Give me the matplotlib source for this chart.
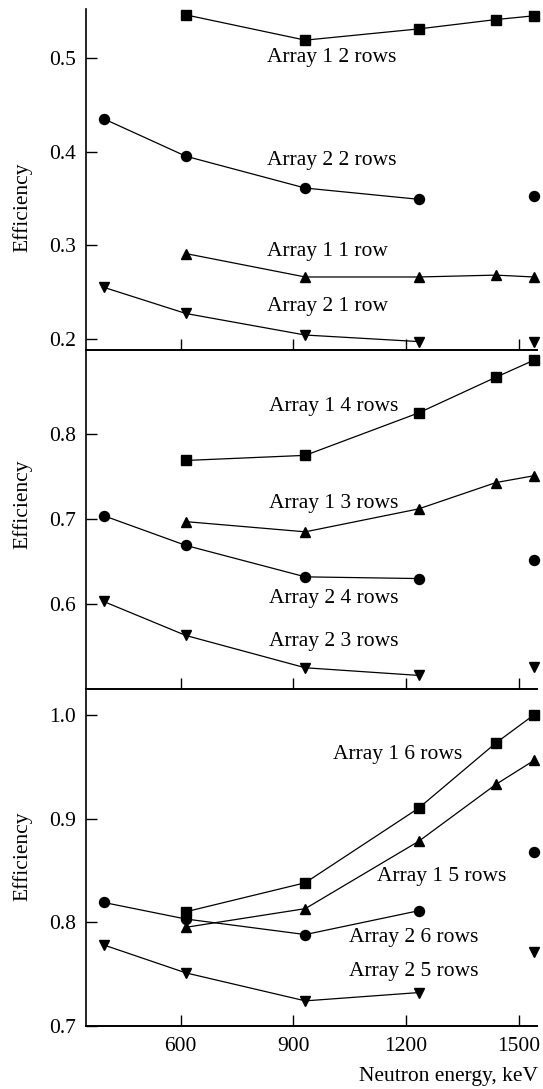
import matplotlib
matplotlib.use("Agg")
import matplotlib.pyplot as plt

plt.rcParams['font.family'] = ['Liberation Serif', 'DejaVu Serif']

# ---- data ----
energy_a1 = [614, 932, 1234, 1440, 1541]
energy_a2 = [395, 614, 932, 1234, 1541]

# top panel
a1_2rows = [0.546, 0.519, 0.531, 0.541, 0.545]
a2_2rows = [0.435, 0.395, 0.361, 0.349, 0.352]
a1_1row = [0.291, 0.266, 0.266, 0.268, 0.266]
a2_1row = [0.255, 0.227, 0.204, 0.197, 0.197]

# middle panel
a1_4rows = [0.769, 0.775, 0.825, 0.867, 0.887]
a1_3rows = [0.697, 0.685, 0.712, 0.743, 0.751]
a2_4rows = [0.704, 0.669, 0.632, 0.630, 0.652]
a2_3rows = [0.603, 0.563, 0.525, 0.516, 0.526]

# bottom panel
a1_6rows = [0.810, 0.838, 0.910, 0.973, 1.000]
a1_5rows = [0.795, 0.813, 0.878, 0.933, 0.956]
a2_6rows = [0.819, 0.803, 0.788, 0.811, 0.868]
a2_5rows = [0.778, 0.751, 0.724, 0.732, 0.771]

xticks = [600, 900, 1200, 1500]

panels = [
    dict(ylim=(0.188, 0.552), yticks=[0.2, 0.3, 0.4, 0.5],
         series=[(energy_a1, a1_2rows, 's', 'Array 1 2 rows', True),
                 (energy_a2, a2_2rows, 'o', 'Array 2 2 rows', False),
                 (energy_a1, a1_1row, '^', 'Array 1 1 row', True),
                 (energy_a2, a2_1row, 'v', 'Array 2 1 row', False)],
         labels=[(831, 0.500), (831, 0.390), (831, 0.293), (831, 0.234)],
         rect=[0.1584, 0.6786, 0.8311, 0.3129], ylab_y=0.418),
    dict(ylim=(0.5, 0.899), yticks=[0.6, 0.7, 0.8],
         series=[(energy_a1, a1_4rows, 's', 'Array 1 4 rows', True),
                 (energy_a1, a1_3rows, '^', 'Array 1 3 rows', True),
                 (energy_a2, a2_4rows, 'o', 'Array 2 4 rows', False),
                 (energy_a2, a2_3rows, 'v', 'Array 2 3 rows', False)],
         labels=[(836, 0.833), (836, 0.718), (836, 0.606), (836, 0.556)],
         rect=[0.1584, 0.3673, 0.8311, 0.3113], ylab_y=0.546),
    dict(ylim=(0.7, 1.025), yticks=[0.7, 0.8, 0.9, 1.0],
         series=[(energy_a1, a1_6rows, 's', 'Array 1 6 rows', True),
                 (energy_a1, a1_5rows, '^', 'Array 1 5 rows', True),
                 (energy_a2, a2_6rows, 'o', 'Array 2 6 rows', False),
                 (energy_a2, a2_5rows, 'v', 'Array 2 5 rows', False)],
         labels=[(1007, 0.962), (1123, 0.844), (1049, 0.785), (1049, 0.752)],
         rect=[0.1584, 0.0581, 0.8311, 0.3092], ylab_y=0.504),
]

fig = plt.figure(figsize=(5.43, 10.89), dpi=100)
msizes = {'s': 6.8, 'o': 7.2, '^': 7.6, 'v': 7.6}
fs = 15.5

for i, p in enumerate(panels):
    ax = fig.add_axes(p['rect'])
    ax.set_xlim(348, 1550)
    ax.set_ylim(*p['ylim'])
    for x, y, m, lab, full in p['series']:
        n = len(x) if full else len(x) - 1
        ax.plot(x[:n], y[:n], color='black', lw=0.9, zorder=2)
        ax.plot(x, y, linestyle='none', marker=m, ms=msizes[m],
                color='black', clip_on=False, zorder=3)
    for (lx, ly), s in zip(p['labels'], [s[3] for s in p['series']]):
        ax.text(lx, ly, s, ha='left', va='center', fontsize=fs)
    for side in ['top', 'right']:
        ax.spines[side].set_visible(False)
    ax.spines['left'].set_linewidth(1.2)
    ax.spines['bottom'].set_linewidth(1.4)
    ax.set_yticks(p['yticks'])
    ax.set_yticklabels([f"{v:.1f}" for v in p['yticks']])
    ax.set_xticks(xticks)
    if i < 2:
        ax.set_xticklabels([])
    else:
        ax.set_xticklabels([str(v) for v in xticks])
    ax.tick_params(direction='in', length=8, width=1.0, labelsize=fs, pad=7)
    ax.tick_params(axis='x', pad=8)
    ax.set_ylabel('Efficiency', fontsize=fs, va='center')
    ax.yaxis.set_label_coords(-0.1405, p['ylab_y'])
    ax.patch.set_alpha(0)

fig.text(0.99, 0.003, 'Neutron energy, keV', ha='right', va='bottom', fontsize=fs)

fig.savefig('out.png', dpi=100)
